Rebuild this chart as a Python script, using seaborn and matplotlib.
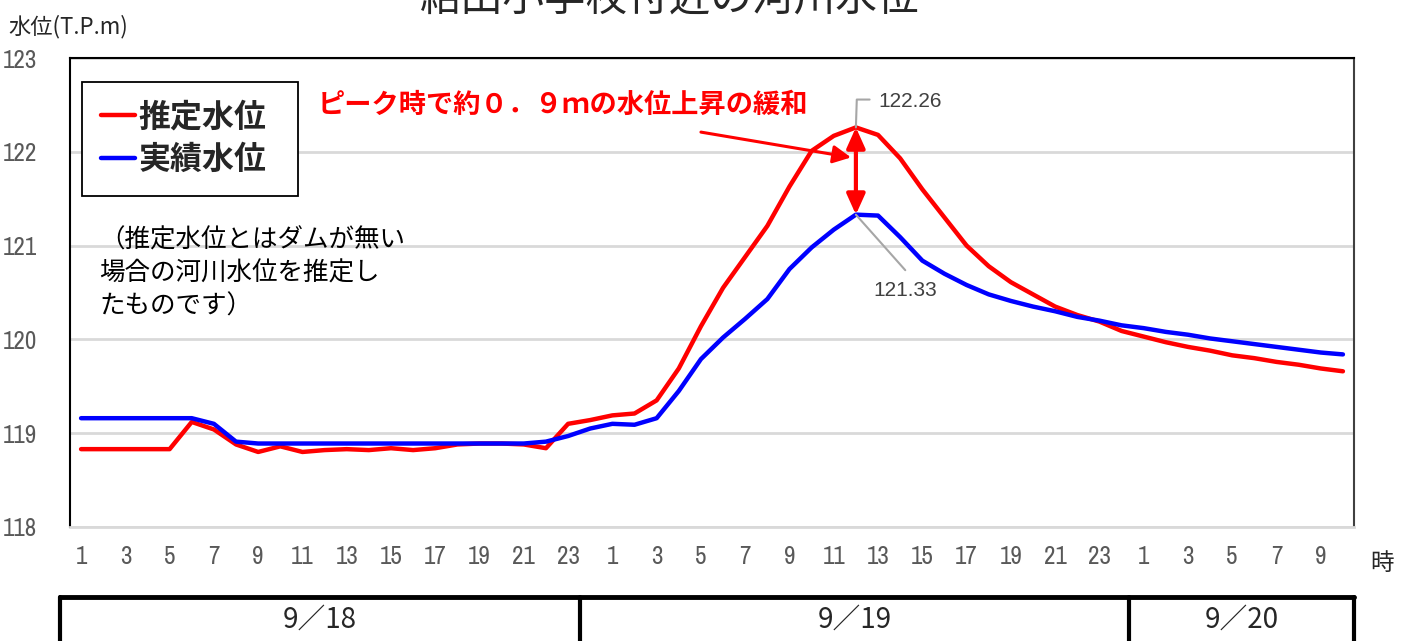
import os
import numpy as np
import pandas as pd
import matplotlib
matplotlib.use("Agg")
import matplotlib.pyplot as plt
import seaborn as sns
from matplotlib import font_manager
from matplotlib.font_manager import FontProperties
from matplotlib.lines import Line2D

# ---------------- data ----------------
hours = list(range(1, 25)) + list(range(1, 25)) + list(range(1, 11))
dates = ["9／18", "9／19", "9／20"]
series_names = ["推定水位", "実績水位"]

estimated = [118.83, 118.83, 118.83, 118.83, 118.83, 119.12, 119.04, 118.88, 118.80, 118.86,
             118.80, 118.82, 118.83, 118.82, 118.84, 118.82, 118.84, 118.88, 118.89, 118.89,
             118.88, 118.84, 119.10, 119.14, 119.19, 119.21, 119.35, 119.69, 120.14, 120.55,
             120.88, 121.21, 121.63, 122.01, 122.17, 122.26, 122.18, 121.93, 121.60, 121.30,
             121.00, 120.78, 120.61, 120.48, 120.35, 120.26, 120.19, 120.09, 120.03, 119.97,
             119.92, 119.88, 119.83, 119.80, 119.76, 119.73, 119.69, 119.66]
actual = [119.16, 119.16, 119.16, 119.16, 119.16, 119.16, 119.10, 118.91, 118.89, 118.89,
          118.89, 118.89, 118.89, 118.89, 118.89, 118.89, 118.89, 118.89, 118.89, 118.89,
          118.89, 118.91, 118.97, 119.05, 119.10, 119.09, 119.16, 119.45, 119.79, 120.02,
          120.22, 120.43, 120.75, 120.98, 121.17, 121.33, 121.32, 121.09, 120.84, 120.70,
          120.58, 120.48, 120.41, 120.35, 120.30, 120.24, 120.20, 120.15, 120.12, 120.08,
          120.05, 120.01, 119.98, 119.95, 119.92, 119.89, 119.86, 119.84]
peak_idx = 35
y_ticks = [118, 119, 120, 121, 122, 123]

# ---------------- style ----------------
sns.set_style("white")
JP = "Noto Sans CJK JP"
plt.rcParams["font.family"] = [JP, "DejaVu Sans"]

# find a condensed/narrow font for the numeric tick labels
def find_narrow():
    prefs = []
    for f in font_manager.fontManager.ttflist:
        base = os.path.basename(f.fname).lower()
        if f.style != "normal" or f.weight not in (400, "normal", "regular"):
            continue
        if "bold" in base or "italic" in base or "oblique" in base:
            continue
        if "narrow" in f.name.lower() or "narrow" in base:
            prefs.append((0, f.fname))
        elif "condensed" in base and "semi" not in base:
            prefs.append((1, f.fname))
        elif str(f.stretch) in ("condensed", "semi-condensed"):
            prefs.append((2, f.fname))
    prefs.sort()
    return prefs[0][1] if prefs else None

narrow_path = find_narrow()
def tick_font(size):
    if narrow_path:
        return FontProperties(fname=narrow_path, size=size)
    return FontProperties(family="Liberation Sans", size=size)

W, H = 1407, 641
def fx(px):
    return px / W
def fy(py):
    return 1 - py / H

fig = plt.figure(figsize=(W / 100, H / 100), dpi=100)
ax = fig.add_axes([fx(70), fy(527), (1354 - 70) / W, (527 - 58) / H])

n = len(hours)
df = pd.DataFrame({
    "idx": list(range(n)) * 2,
    "level": estimated + actual,
    "series": [series_names[0]] * n + [series_names[1]] * n,
})
palette = {series_names[0]: "#FF0000", series_names[1]: "#0000FF"}
sns.lineplot(data=df, x="idx", y="level", hue="series", palette=palette,
             linewidth=3.2, ax=ax, legend=False, estimator=None)

ax.set_xlim(-0.5, n - 0.5)
ax.set_ylim(118, 123)
ax.set_xlabel("")
ax.set_ylabel("")

# grid / spines
ax.set_yticks(y_ticks)
ax.set_yticklabels([str(v) for v in y_ticks], fontproperties=tick_font(18), color="#595959")
ax.yaxis.grid(True, color="#d9d9d9", linewidth=2)
ax.xaxis.grid(False)
ax.set_axisbelow(True)
for s in ["left", "top"]:
    ax.spines[s].set_color("black")
    ax.spines[s].set_linewidth(1.5)
ax.spines["right"].set_color("#404040")
ax.spines["right"].set_linewidth(1.5)
ax.spines["bottom"].set_color("#d9d9d9")
ax.spines["bottom"].set_linewidth(2)

ax.set_xticks(range(n))
ax.set_xticklabels([str(h) if h % 2 == 1 else "" for h in hours],
                   fontproperties=tick_font(18), color="#595959")
ax.set_xticks(np.arange(-0.5, n, 1), minor=True)
ax.tick_params(axis="x", which="major", length=0, pad=13)
ax.tick_params(axis="x", which="minor", length=7, width=1.5, color="#d9d9d9", direction="out")
ax.tick_params(axis="y", which="both", length=0, pad=24)

# legend
handles = [Line2D([0], [0], color="#FF0000", lw=3.2), Line2D([0], [0], color="#0000FF", lw=3.2)]
leg = ax.legend(handles, series_names, loc="upper left", mode="expand",
                bbox_to_anchor=((82 - 70) / 1284, (527 - 82) / 469 - 0.01, 216 / 1284, 0.01),
                borderaxespad=0, frameon=True, fancybox=False, edgecolor="black",
                prop=dict(family=JP, weight="bold", size=23),
                handlelength=1.05, handletextpad=0.12, borderpad=0.6, labelspacing=0.35,
                framealpha=1)
leg.get_frame().set_linewidth(1.3)

# note
ax.text((99 - 70) / 1284, (527 - 228) / 469,
        "（推定水位とはダムが無い\n場合の河川水位を推定し\nたものです）",
        transform=ax.transAxes, ha="left", va="top", fontsize=18.4,
        linespacing=1.35, color="black")

# red message and arrows
ax.text(21.75, 122.5, "ピーク時で約０．９ｍの水位上昇の緩和", ha="center", va="center",
        fontsize=19.6, fontweight="bold", color="#FF0000")
ax.annotate("", xy=(34.78, 121.94), xytext=(28.0, 122.21),
            arrowprops=dict(arrowstyle="-|>,head_length=0.4,head_width=0.2", color="#FF0000",
                            lw=2.2, mutation_scale=27, shrinkA=0, shrinkB=0))
ax.annotate("", xy=(peak_idx, estimated[peak_idx]), xytext=(peak_idx, actual[peak_idx]),
            arrowprops=dict(arrowstyle="<|-|>,head_length=0.4,head_width=0.18", color="#FF0000",
                            lw=3, mutation_scale=31, shrinkA=0, shrinkB=0))

# data labels with leaders
ax.plot([peak_idx, peak_idx + 0.04, peak_idx + 0.62],
        [estimated[peak_idx], 122.557, 122.557], color="#a6a6a6", lw=1.5)
ax.text(peak_idx + 1.02, 122.54, f"{estimated[peak_idx]:.2f}", ha="left", va="center",
        fontfamily="Liberation Sans", fontsize=15, color="#404040")
ax.plot([peak_idx, peak_idx + 2.23], [actual[peak_idx], 120.738], color="#a6a6a6", lw=1.5)
ax.text(peak_idx + 2.24, 120.52, f"{actual[peak_idx]:.2f}", ha="center", va="center",
        fontfamily="Liberation Sans", fontsize=15, color="#404040")

# title, axis labels
fig.text(fx(670), fy(11), "給田小学校付近の河川水位", ha="center", va="baseline", fontsize=30)
fig.text(fx(8), fy(27), "水位(T.P.m)", ha="left", va="center", fontsize=16)
fig.text(fx(1382), fy(563), "時", ha="center", va="center", fontsize=17)

# date boxes
box_edges = [60, 580, 1129, 1354]
fig.add_artist(Line2D([fx(box_edges[0]), fx(box_edges[-1])], [fy(597), fy(597)],
                      transform=fig.transFigure, color="black", lw=3.5))
for e in box_edges:
    fig.add_artist(Line2D([fx(e), fx(e)], [fy(597), fy(660)],
                          transform=fig.transFigure, color="black", lw=3))
for i, d in enumerate(dates):
    cx = (box_edges[i] + box_edges[i + 1]) / 2
    fig.text(fx(cx), fy(620), d, ha="center", va="center", fontsize=20)

fig.savefig("out.png", dpi=100)
